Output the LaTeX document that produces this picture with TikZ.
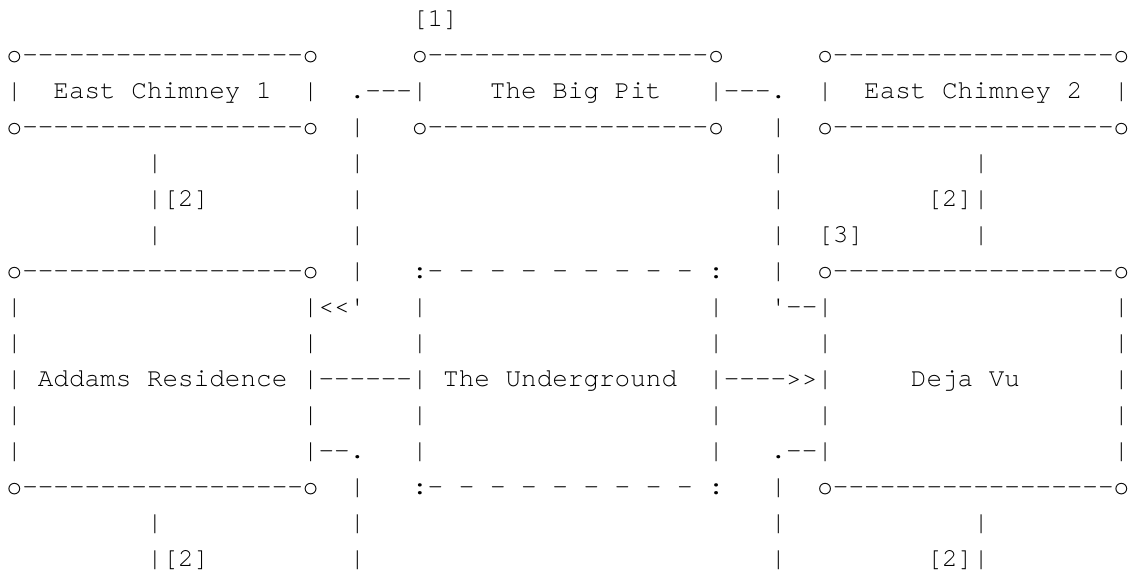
\documentclass[tikz,border=0pt]{standalone}
\usepackage{fontspec}
\setmonofont{TeX Gyre Cursor}
\tikzset{
  seg/.style={anchor=base west, inner sep=0pt, outer sep=0pt, text=black,
    font=\ttfamily\fontsize{19.49pt}{27pt}\selectfont}
}
\newcommand{\seg}[4]{\node[seg] (#1) at ({6.7+15.59*#2},{26.5+36*(#3-1)}) {#4};}
\begin{document}
\begin{tikzpicture}[x=0.75pt,y=-0.75pt]
\useasboundingbox[fill=white] (0,0) rectangle (1132,571);
% row 1
\seg{lab1}{26}{1}{[1]}
% row 2
\seg{ecAtop}{0}{2}{o------------------o}
\seg{pitTop}{26}{2}{o------------------o}
\seg{ecBtop}{52}{2}{o------------------o}
% row 3
\seg{ecAl}{0}{3}{|}
\seg{ecA}{3}{3}{East Chimney 1}
\seg{ecAr}{19}{3}{|}
\seg{pitL}{22}{3}{.---|}
\seg{pit}{31}{3}{The Big Pit}
\seg{pitR}{45}{3}{|---.}
\seg{ecBl}{52}{3}{|}
\seg{ecB}{55}{3}{East Chimney 2}
\seg{ecBr}{71}{3}{|}
% row 4
\seg{ecAbot}{0}{4}{o------------------o}
\seg{wl4}{22}{4}{|}
\seg{pitBot}{26}{4}{o------------------o}
\seg{el4}{49}{4}{|}
\seg{ecBbot}{52}{4}{o------------------o}
% row 5
\seg{a5}{9}{5}{|}
\seg{wl5}{22}{5}{|}
\seg{el5}{49}{5}{|}
\seg{b5}{62}{5}{|}
% row 6
\seg{a6}{9}{6}{|[2]}
\seg{wl6}{22}{6}{|}
\seg{el6}{49}{6}{|}
\seg{b6}{59}{6}{[2]|}
% row 7
\seg{a7}{9}{7}{|}
\seg{wl7}{22}{7}{|}
\seg{el7}{49}{7}{|}
\seg{lab3}{52}{7}{[3]}
\seg{b7}{62}{7}{|}
% row 8
\seg{adTop}{0}{8}{o------------------o}
\seg{wl8}{22}{8}{|}
\seg{ugTop}{26}{8}{:- - - - - - - - - :}
\seg{el8}{49}{8}{|}
\seg{djTop}{52}{8}{o------------------o}
% row 9
\seg{ad9l}{0}{9}{|}
\seg{ad9r}{19}{9}{|<<'}
\seg{ug9l}{26}{9}{|}
\seg{ug9r}{45}{9}{|}
\seg{dj9l}{49}{9}{'--|}
\seg{dj9r}{71}{9}{|}
% row 10
\seg{ad10l}{0}{10}{|}
\seg{ad10r}{19}{10}{|}
\seg{ug10l}{26}{10}{|}
\seg{ug10r}{45}{10}{|}
\seg{dj10l}{52}{10}{|}
\seg{dj10r}{71}{10}{|}
% row 11
\seg{ad11l}{0}{11}{|}
\seg{ad}{2}{11}{Addams Residence}
\seg{adug}{19}{11}{|------|}
\seg{ug}{28}{11}{The Underground}
\seg{ugdj}{45}{11}{|---->>|}
\seg{dj}{58}{11}{Deja Vu}
\seg{dj11r}{71}{11}{|}
% row 12
\seg{ad12l}{0}{12}{|}
\seg{ad12r}{19}{12}{|}
\seg{ug12l}{26}{12}{|}
\seg{ug12r}{45}{12}{|}
\seg{dj12l}{52}{12}{|}
\seg{dj12r}{71}{12}{|}
% row 13
\seg{ad13l}{0}{13}{|}
\seg{ad13r}{19}{13}{|--.}
\seg{ug13l}{26}{13}{|}
\seg{ug13r}{45}{13}{|}
\seg{dj13l}{49}{13}{.--|}
\seg{dj13r}{71}{13}{|}
% row 14
\seg{adBot}{0}{14}{o------------------o}
\seg{wl14}{22}{14}{|}
\seg{ugBot}{26}{14}{:- - - - - - - - - :}
\seg{el14}{49}{14}{|}
\seg{djBot}{52}{14}{o------------------o}
% row 15
\seg{a15}{9}{15}{|}
\seg{wl15}{22}{15}{|}
\seg{el15}{49}{15}{|}
\seg{b15}{62}{15}{|}
% row 16
\seg{a16}{9}{16}{|[2]}
\seg{wl16}{22}{16}{|}
\seg{el16}{49}{16}{|}
\seg{b16}{59}{16}{[2]|}
\end{tikzpicture}
\end{document}
